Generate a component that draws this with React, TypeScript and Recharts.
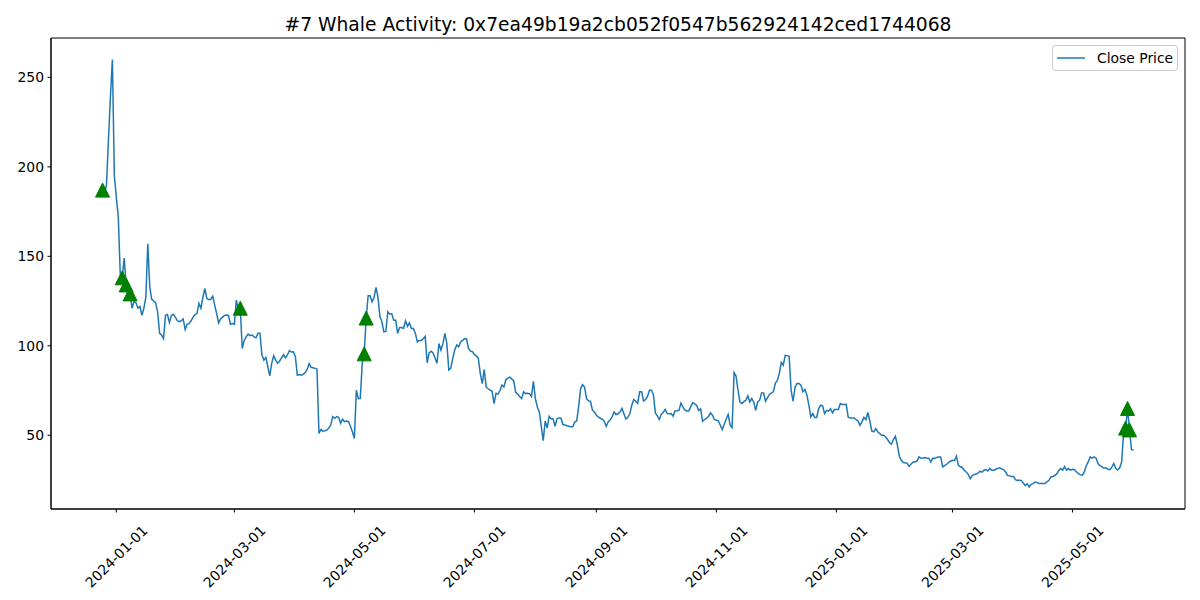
import React from 'react';
import {
  ComposedChart, Line, Scatter, XAxis, YAxis, Legend, ReferenceArea,
} from 'recharts';

// ============================================================
// WHALE ACTIVITY CHART
// Daily close price with green markers where the whale traded.
// ============================================================

const FIRST_DATE = '2023-12-25';

// one close per day, starting at FIRST_DATE
const closePrices: number[] = [
  // 2023-12 (25..31)
  187, 185, 190, 215, 239, 260, 195,
  // 2024-01
  183, 172, 140, 138, 149, 134, 126, 129, 121, 125, 124, 121, 122, 117, 121, 127,
  157, 133, 126, 125, 124, 119, 107, 106, 104, 117, 117.5, 113, 117, 117.5, 116,
  // 2024-02
  114, 113.5, 114, 115, 109, 112, 112.5, 114, 116, 117.5, 118, 123.7, 121, 127, 132,
  126.5, 125.7, 126, 127.7, 122.7, 118, 112.8, 115, 116, 117, 117.2, 117, 112, 112.4,
  // 2024-03
  112, 125.5, 120, 121, 98.5, 103, 105, 106.5, 105.7, 106, 105, 104.5, 107, 107, 95,
  92, 93.5, 88.3, 83.2, 90.3, 94.4, 92, 90.3, 91.5, 93.3, 95, 93.3, 95, 97.3, 96.5, 96.6,
  // 2024-04
  94, 83.6, 84, 83.6, 84, 85, 86.8, 90, 88, 87.7, 87.4, 87, 51, 53.2, 52.3,
  52.5, 52.9, 54, 55.7, 60.4, 59.5, 60.4, 60, 56.7, 59, 57.6, 58, 57.6, 55, 52,
  // 2024-05
  48.2, 75.2, 70.5, 70.5, 90.2, 95.5, 115.5, 128, 128, 124.6, 127, 132.6, 127, 116.2, 113.4,
  107.8, 108, 119, 117.7, 118, 114.3, 114.3, 106.9, 110.2, 110.2, 109.7, 114, 110.8, 112.8, 109.7, 109.7,
  // 2024-06
  107, 102.2, 103, 103, 103.9, 105.2, 90.5, 96, 97, 96, 93.2, 90.3, 101.2, 97.6, 101.2,
  106.9, 101.2, 86.5, 87.4, 93, 97.6, 100.4, 99.5, 102.2, 103, 104, 104, 98.5, 97, 96.7,
  // 2024-07
  95, 94.4, 93.1, 84.5, 78.9, 86.7, 77, 76, 75.2, 74.6, 67.7, 73.5, 73, 75, 78,
  77, 81, 81.9, 82.5, 81.5, 80.4, 74, 73, 71.7, 70.5, 74.3, 73.3, 73.5, 73.3, 71.7, 80.2,
  // 2024-08
  70.5, 65.8, 63, 55, 47, 58, 54, 60.6, 59.3, 59.3, 55, 59.3, 59.7, 59.5, 56,
  55.8, 55.3, 55, 54.8, 54.8, 57.4, 58, 66, 76.1, 78.3, 77, 70.5, 69.2, 69, 64, 63,
  // 2024-09
  61.2, 60.3, 59.5, 59, 57.8, 55, 57.4, 58.5, 60.3, 63, 61.6, 62, 63, 65, 62,
  59.1, 60, 62, 66.8, 70, 69, 67.8, 74.3, 74.3, 69.2, 70, 71.7, 75.2, 75.2, 72.6,
  // 2024-10
  62.5, 60.8, 58.8, 61.7, 62.9, 64.4, 62.1, 62, 62.1, 60.7, 63.6, 63.7, 63.9, 68, 65.8,
  64, 63.6, 63.6, 66, 68.2, 67.5, 66.7, 63.9, 64.8, 57.8, 58.8, 59.6, 60.5, 62.5, 61.2, 58.8,
  // 2024-11
  58.4, 58.1, 55.6, 53.2, 56.2, 59, 61.7, 55.6, 54.3, 85, 83.1, 75.2, 68.6, 67.8, 68.8,
  69.6, 72, 68.6, 70.5, 68.6, 64, 68.6, 69.6, 73.6, 73.6, 69, 71, 72.8, 73.5, 74.4,
  // 2024-12
  79.2, 80.6, 84.6, 90.7, 89.2, 94.7, 94.5, 94.1, 75, 69, 77, 78.9, 78.9, 78, 74.3,
  75.6, 72.6, 66.8, 60.3, 62.1, 60, 60, 64.9, 66.8, 66.5, 62.1, 63.9, 63.5, 64.9, 62.5, 64.4,
  // 2025-01
  64.4, 64.4, 67.7, 67.2, 67.2, 67.3, 60.1, 59.6, 59.7, 59.7, 58.7, 58, 55.6, 57.5, 60,
  58.7, 62.7, 58, 52.4, 51.9, 53.7, 52, 51, 50, 50, 49, 47.6, 46, 45, 47.6, 49.4,
  // 2025-02
  44.5, 38.3, 36, 34.8, 34.6, 34.3, 32.6, 34, 35.1, 35.1, 35.7, 37.9, 37.2, 37.3,
  37.5, 37.2, 37.2, 35, 37.2, 37, 37.6, 37.9, 37.9, 32.4, 33, 33.8, 34.8, 35.5,
  // 2025-03
  36, 35.8, 38.3, 33.3, 32.4, 32, 30.4, 29.5, 28.2, 25.8, 27.5, 28, 28.4, 28.8, 29.9,
  29.4, 30.5, 30.8, 30, 31.5, 30.4, 30.4, 31, 31.5, 31.8, 31.2, 30.8, 29.5, 27.6, 27.3, 27,
  // 2025-04
  27, 25.2, 24.8, 24.9, 24.8, 23.3, 22, 22.8, 21.1, 22.6, 23, 23.9, 23.6, 23, 23,
  23, 23, 24, 24.7, 26.7, 27, 27.5, 28.4, 30.2, 31.4, 30.5, 32.5, 30.5, 31.4, 30.5,
  // 2025-05
  31, 30.8, 29.6, 28.5, 28, 27.6, 29.5, 33, 35.1, 37.9, 37.2, 37.9, 37.2, 34.2, 33,
  32.4, 31.6, 31.8, 31, 30.8, 32.2, 34.2, 31.6, 30.6, 31.8, 35.1, 51.3, 54, 65, 53, 42,
  // 2025-06
  41.8,
];

const whaleDates = [
  '2023-12-25', '2024-01-04', '2024-01-06', '2024-01-08', '2024-03-04',
  '2024-05-06', '2024-05-07', '2025-05-28', '2025-05-29', '2025-05-30',
];
const whalePrices = [187, 138, 134, 129, 121, 95.5, 115.5, 54, 65, 53];

const xTickDates = [
  '2024-01-01', '2024-03-01', '2024-05-01', '2024-07-01', '2024-09-01',
  '2024-11-01', '2025-01-01', '2025-03-01', '2025-05-01',
];
const yTicks = [50, 100, 150, 200, 250];

const FONT = '"DejaVu Sans", sans-serif';
const DAY_MS = 86400000;
const ORIGIN = Date.parse('2024-01-01');

const toDay = (iso: string) => Math.round((Date.parse(iso) - ORIGIN) / DAY_MS);
const toIso = (day: number) => new Date(ORIGIN + day * DAY_MS).toISOString().slice(0, 10);

const startDay = toDay(FIRST_DATE);
const priceData = closePrices.map((close, i) => ({ day: startDay + i, close }));
const whaleData = whaleDates.map((d, i) => ({ day: toDay(d), whale: whalePrices[i] }));
const xTicks = xTickDates.map(toDay);

// matplotlib-ish 5% padding around the data
const X_DOMAIN: [number, number] = [-33.2, 543.2];
const Y_DOMAIN: [number, number] = [8.8, 272];

function DateTick({ x, y, payload }: any) {
  const cx = x;
  const cy = y + 44;
  return (
    <text
      x={cx}
      y={cy}
      transform={`rotate(-45 ${cx} ${cy})`}
      textAnchor="middle"
      dominantBaseline="central"
      fontSize={13.9}
      fontFamily={FONT}
      fill="#000"
    >
      {toIso(payload.value)}
    </text>
  );
}

function WhaleMarker({ cx, cy }: any) {
  const h = 7;
  return (
    <polygon
      points={`${cx},${cy - h} ${cx - h},${cy + h} ${cx + h},${cy + h}`}
      fill="#008000"
      stroke="#008000"
      strokeWidth={1}
    />
  );
}

function LegendBox() {
  return (
    <div
      style={{
        boxSizing: 'border-box',
        width: 126,
        height: 26,
        border: '1px solid #cccccc',
        borderRadius: 3,
        background: 'rgba(255,255,255,0.8)',
        position: 'relative',
        fontFamily: FONT,
        fontSize: 13.9,
        color: '#000',
      }}
    >
      <svg width={30} height={4} style={{ position: 'absolute', left: 4, top: 10 }}>
        <line x1={0} y1={2} x2={28} y2={2} stroke="#1f77b4" strokeWidth={1.5} />
      </svg>
      <span style={{ position: 'absolute', left: 44, top: 4, lineHeight: '16px', whiteSpace: 'nowrap' }}>
        Close Price
      </span>
    </div>
  );
}

export default function App() {
  return (
    <div style={{ position: 'absolute', left: 0, top: 0, width: 1200, height: 600, background: '#fff' }}>
      <div
        style={{
          position: 'absolute',
          left: 51,
          width: 1134,
          top: 16,
          textAlign: 'center',
          fontFamily: FONT,
          fontSize: 18.7,
          lineHeight: '18.7px',
          color: '#000',
          zIndex: 2,
        }}
      >
        #7 Whale Activity: 0x7ea49b19a2cb052f0547b562924142ced1744068
      </div>
      <ComposedChart
        width={1200}
        height={600}
        data={priceData}
        margin={{ top: 38, right: 15, bottom: 0, left: 0 }}
      >
        <XAxis
          dataKey="day"
          type="number"
          domain={X_DOMAIN}
          allowDataOverflow
          ticks={xTicks}
          interval={0}
          height={91}
          tick={<DateTick />}
          tickSize={3.5}
          tickMargin={0}
          axisLine={{ stroke: '#000' }}
          tickLine={{ stroke: '#000' }}
        />
        <YAxis
          type="number"
          domain={Y_DOMAIN}
          allowDataOverflow
          ticks={yTicks}
          interval={0}
          width={51}
          tickSize={3.5}
          tickMargin={3.5}
          tick={{ fontSize: 13.9, fill: '#000', fontFamily: FONT }}
          axisLine={{ stroke: '#000' }}
          tickLine={{ stroke: '#000' }}
        />
        <ReferenceArea
          x1={X_DOMAIN[0]}
          x2={X_DOMAIN[1]}
          y1={Y_DOMAIN[0]}
          y2={Y_DOMAIN[1]}
          fill="none"
          stroke="#000"
          strokeWidth={1}
          ifOverflow="visible"
        />
        <Line
          dataKey="close"
          type="linear"
          stroke="#1f77b4"
          strokeWidth={1.5}
          dot={false}
          activeDot={false}
          isAnimationActive={false}
          name="Close Price"
        />
        <Scatter
          data={whaleData}
          dataKey="whale"
          shape={<WhaleMarker />}
          isAnimationActive={false}
          legendType="none"
        />
        <Legend
          layout="horizontal"
          verticalAlign="middle"
          align="center"
          wrapperStyle={{ position: 'absolute', left: 1052, top: 45, width: 126, height: 26 }}
          content={() => <LegendBox />}
        />
      </ComposedChart>
    </div>
  );
}
